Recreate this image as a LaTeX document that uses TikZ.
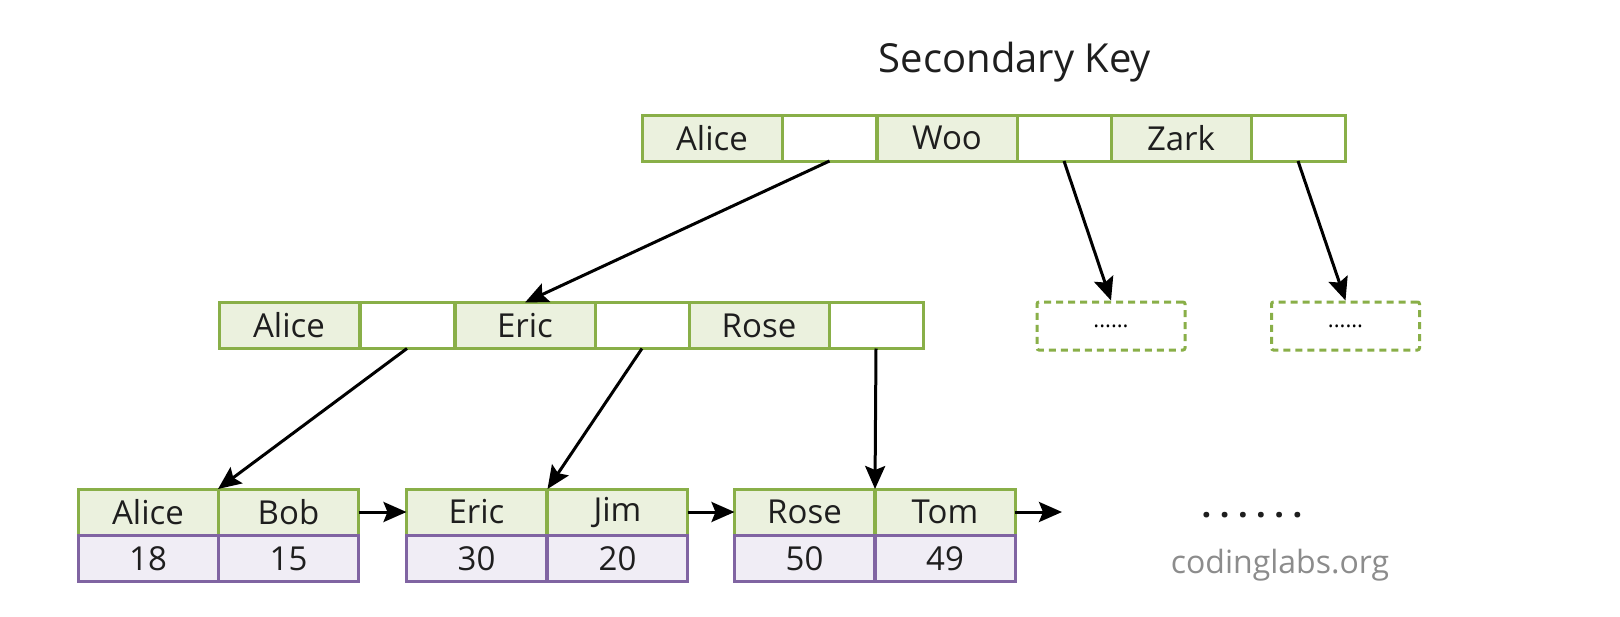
\documentclass[tikz,border=0pt]{standalone}
\usepackage{fontspec}
\setmainfont{Open Sans}
\usetikzlibrary{arrows.meta}
\definecolor{kgreen}{RGB}{137,175,72}
\definecolor{kfill}{RGB}{235,241,222}
\definecolor{vpurple}{RGB}{128,100,162}
\definecolor{vfill}{RGB}{240,237,245}
\definecolor{txt}{RGB}{30,30,30}
\tikzset{
  cell/.style={draw=kgreen, line width=3pt, rectangle, inner sep=0pt, outer sep=0pt,
    minimum height=46pt, text=txt, font=\fontsize{33}{33}\selectfont},
  keycell/.style={cell, fill=kfill, minimum width=140pt},
  ptrcell/.style={cell, fill=white, minimum width=94pt},
  valcell/.style={cell, draw=vpurple, fill=vfill, minimum width=140pt},
  leafkey/.style={keycell, minimum width=140pt},
  ghost/.style={draw=kgreen, line width=3pt, dashed, dash pattern=on 7pt off 5pt, rounded corners=2pt,
    minimum width=148pt, minimum height=48pt, inner sep=0pt, font=\fontsize{22}{22}\selectfont},
  arr/.style={line width=3pt, -{Stealth[length=23pt,width=20pt,inset=4pt]}}
}
\begin{document}
\begin{tikzpicture}[x=1pt,y=-1pt]
\useasboundingbox (0,0) rectangle (1620,616);
\fill[white] (0,0) rectangle (1620,616);
\node[font=\fontsize{40}{40}\selectfont, text=txt] (title) at (1015,62) {Secondary Key};
% top row
\node[keycell] (tA) at (712,138) {Alice};
\node[ptrcell] (tp1) at (829.5,138) {};
\node[keycell] (tW) at (947,138) {Woo};
\node[ptrcell] (tp2) at (1064,138) {};
\node[keycell] (tZ) at (1181,138) {Zark};
\node[ptrcell] (tp3) at (1298,138) {};
% middle row
\node[keycell] (mA) at (289,325.5) {Alice};
\node[ptrcell] (mp1) at (407,325.5) {};
\node[keycell] (mE) at (525,325.5) {Eric};
\node[ptrcell] (mp2) at (642,325.5) {};
\node[keycell] (mR) at (759,325.5) {Rose};
\node[ptrcell] (mp3) at (876,325.5) {};
% ghost nodes
\node[ghost] (g1) at (1111,326) {......};
\node[ghost] (g2) at (1345.5,326) {......};
% leaves
\node[leafkey] (lAl) at (148,512) {Alice};
\node[leafkey] (lBo) at (288.5,512) {Bob};
\node[valcell] (v18) at (148,558.5) {18};
\node[valcell] (v15) at (288.5,558.5) {15};
\node[leafkey] (lEr) at (476.5,512) {Eric};
\node[leafkey] (lJi) at (617.5,512) {Jim};
\node[valcell] (v30) at (476.5,558.5) {30};
\node[valcell] (v20) at (617.5,558.5) {20};
\node[leafkey] (lRo) at (804.5,512) {Rose};
\node[leafkey] (lTo) at (945,512) {Tom};
\node[valcell] (v50) at (804.5,558.5) {50};
\node[valcell] (v49) at (945,558.5) {49};
\coordinate (tail) at (1062,512);
\node[font=\fontsize{34}{34}\selectfont\bfseries\addfontfeature{LetterSpace=25}, text=txt] (dots) at (1252,515) {......};
\node[font=\fontsize{32}{32}\selectfont, text={rgb,255:red,140;green,140;blue,140}] (cl) at (1280,565) {codinglabs.org};
% arrows
\draw[arr] (tp1.south) -- (mE.north);
\draw[arr] (tp2.south) -- (g1.north);
\draw[arr] (tp3.south) -- (g2.north);
\draw[arr] (mp1.south) -- (lAl.north east);
\draw[arr] (mp2.south) -- (lJi.north west);
\draw[arr] (mp3.south) -- (lTo.north west);
\draw[arr] (lBo.east) -- (lEr.west);
\draw[arr] (lJi.east) -- (lRo.west);
\draw[arr] (lTo.east) -- (tail);
\end{tikzpicture}
\end{document}
